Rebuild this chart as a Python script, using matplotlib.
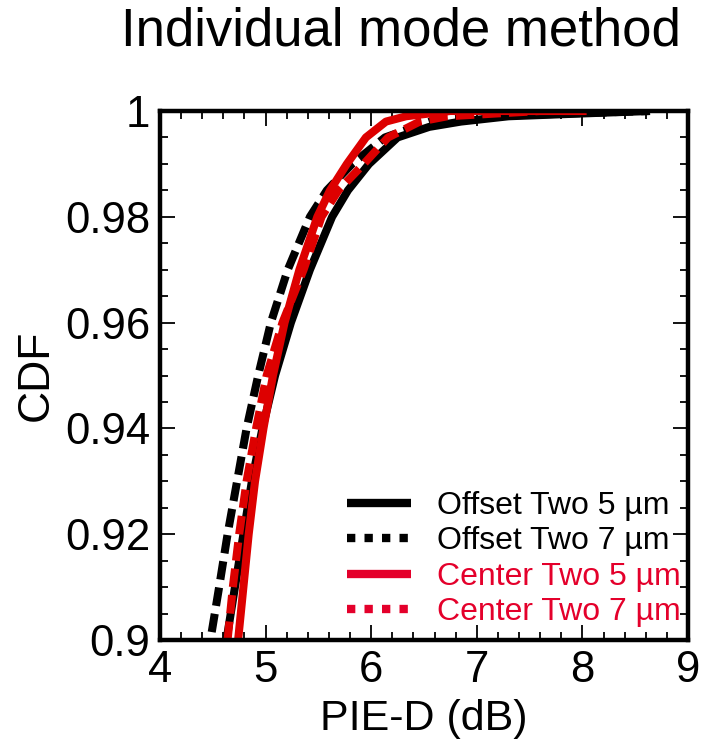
import matplotlib
matplotlib.use("Agg")
import matplotlib.pyplot as plt
from matplotlib.lines import Line2D
from matplotlib.ticker import MultipleLocator, FuncFormatter

cdf_levels = [0.90, 0.91, 0.92, 0.93, 0.94, 0.95, 0.96, 0.97, 0.98, 0.985, 0.99, 0.995, 0.998, 0.999, 1.0]

# PIE-D (dB) of each curve at those levels
offset5_x = [4.63, 4.71, 4.79, 4.87, 4.97, 5.09, 5.24, 5.42, 5.63, 5.78, 5.98, 6.25, 6.55, 6.85, 7.30, 7.95, 8.64]
offset5_y = [0.90, 0.91, 0.92, 0.93, 0.94, 0.95, 0.96, 0.97, 0.98, 0.985, 0.99, 0.995, 0.997, 0.998, 0.999, 0.9995, 1.0]

offset7_x = [4.49, 4.56, 4.64, 4.73, 4.82, 4.93, 5.05, 5.21, 5.42, 5.58, 5.82, 6.13, 6.56, 7.03, 8.64]
offset7_y = [0.9015] + cdf_levels[1:]

center5_x = [4.74, 4.79, 4.84, 4.90, 4.98, 5.07, 5.18, 5.32, 5.49, 5.61, 5.77, 5.95, 6.14, 6.33, 6.75, 8.04]
center5_y = cdf_levels + [1.0]

center7_x = [4.64, 4.69, 4.75, 4.82, 4.91, 5.01, 5.16, 5.36, 5.53, 5.69, 5.93, 6.16, 6.46, 6.72, 7.60, 8.04]
center7_y = cdf_levels + [1.0]

labels = ["Offset Two 5 µm", "Offset Two 7 µm", "Center Two 5 µm", "Center Two 7 µm"]

plt.rcParams['font.family'] = ['Liberation Sans', 'DejaVu Sans']

line_red = '#dd0000'
text_red = '#e4002b'

fig = plt.figure(figsize=(7.06, 7.41), dpi=100)
ax = fig.add_axes([0.2266, 0.1363, 0.7479, 0.7139])

lw = 5.8
ax.plot(offset5_x, offset5_y, color='black', lw=lw, solid_capstyle='butt', solid_joinstyle='round')
ax.plot(offset7_x, offset7_y, color='black', lw=lw, dashes=(2.3, 1.0))
ax.plot(center5_x, center5_y, color=line_red, lw=lw, solid_capstyle='butt', solid_joinstyle='round')
ax.plot(center7_x, center7_y, color=line_red, lw=lw, dashes=(2.3, 1.0))

ax.set_xlim(4, 9)
ax.set_ylim(0.9, 1.0)
ax.xaxis.set_major_locator(MultipleLocator(1))
ax.xaxis.set_minor_locator(MultipleLocator(0.2))
ax.yaxis.set_major_locator(MultipleLocator(0.02))
ax.yaxis.set_minor_locator(MultipleLocator(0.005))
ax.yaxis.set_major_formatter(FuncFormatter(lambda v, p: '%g' % round(v, 3)))
ax.tick_params(which='both', direction='in', top=True, right=True, width=1.3, colors='black')
ax.tick_params(which='major', length=11, labelsize=31.5, pad=7)
ax.tick_params(which='minor', length=6)
for s in ax.spines.values():
    s.set_linewidth(3.2)

ax.set_xlabel('PIE-D (dB)', fontsize=31, labelpad=6)
ax.set_ylabel('CDF', fontsize=32, labelpad=6)

fig.text(0.568, 0.957, 'Individual mode method', fontsize=38, ha='center', va='center')

handles = [
    Line2D([], [], color='black', lw=6, solid_capstyle='butt'),
    Line2D([], [], color='black', lw=6, dashes=(1, 1.1)),
    Line2D([], [], color=text_red, lw=6, solid_capstyle='butt'),
    Line2D([], [], color=text_red, lw=6, dashes=(1, 1.1)),
]
leg = ax.legend(handles, labels, loc='lower right', frameon=False, fontsize=23,
                handlelength=2.0, handletextpad=0.8, labelspacing=0.17,
                borderaxespad=0.0, bbox_to_anchor=(1.01, 0.0))
for t, c in zip(leg.get_texts(), ['black', 'black', text_red, text_red]):
    t.set_color(c)

fig.savefig('out.png', dpi=100)
